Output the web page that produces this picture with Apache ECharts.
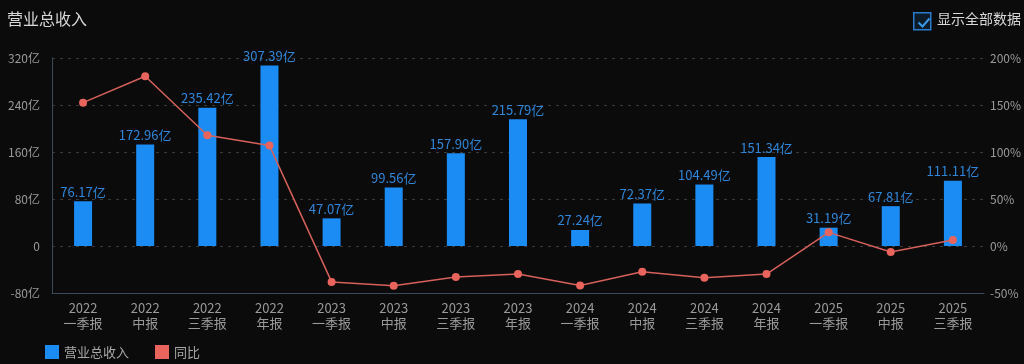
<!DOCTYPE html>
<html><head><meta charset="utf-8">
<script src="https://cdn.jsdelivr.net/npm/echarts@6/dist/echarts.min.js"></script>
<style>html,body{margin:0;padding:0;background:#0b0b0c;}#c{width:1024px;height:364px;}</style>
</head><body><div id="c"></div>
<script>
const categories = ['2022\n一季报','2022\n中报','2022\n三季报','2022\n年报','2023\n一季报','2023\n中报','2023\n三季报','2023\n年报','2024\n一季报','2024\n中报','2024\n三季报','2024\n年报','2025\n一季报','2025\n中报','2025\n三季报'];
const revenue = [76.17,172.96,235.42,307.39,47.07,99.56,157.90,215.79,27.24,72.37,104.49,151.34,31.19,67.81,111.11];
const yoy = [152.5,180.6,117.9,106.8,-38.2,-42.4,-32.9,-29.8,-42.1,-27.3,-33.8,-29.9,14.5,-6.3,6.3];
const leftTicks = {min:-80,max:320,interval:80};
const rightTicks = {min:-50,max:200,interval:50};

const chart = echarts.init(document.getElementById('c'));
const font = '"Noto Sans CJK SC", "Noto Sans", sans-serif';
chart.setOption({
  backgroundColor:'#0b0b0c',
  textStyle:{fontFamily:font},
  title:{text:'营业总收入',left:2,top:6,textStyle:{color:'#d8d8d8',fontSize:16,fontWeight:'normal',fontFamily:font}},
  legend:{left:40,bottom:0,itemWidth:14,itemHeight:14,itemGap:26,icon:'rect',
    textStyle:{color:'#a8a8a8',fontSize:13,fontFamily:font},
    data:['营业总收入','同比']},
  grid:{left:52,right:31,top:58,bottom:71},
  xAxis:{type:'category',data:categories,
    axisLine:{show:true,onZero:false,lineStyle:{color:'#3b4a5a'}},axisTick:{show:false},
    axisLabel:{color:'#9a9a9a',fontSize:13,lineHeight:15,margin:8,interval:0,fontFamily:font}},
  yAxis:[
    {type:'value',min:leftTicks.min,max:leftTicks.max,interval:leftTicks.interval,
     axisLine:{show:true,lineStyle:{color:'#3b4a5a'}},axisTick:{show:false},
     splitLine:{lineStyle:{color:'#3a3a3a',type:[3,5]}},
     axisLabel:{color:'#9a9a9a',fontSize:12,margin:12,fontFamily:font,formatter:v=>v===0?'0':v+'亿'}},
    {type:'value',min:rightTicks.min,max:rightTicks.max,interval:rightTicks.interval,
     axisLine:{show:false},axisTick:{show:false},splitLine:{show:false},
     axisLabel:{color:'#9a9a9a',fontSize:12,margin:6,fontFamily:font,formatter:v=>v+'%'}}
  ],
  series:[
    {name:'营业总收入',type:'bar',data:revenue,barWidth:18,itemStyle:{color:'#1c8cf5'},
     label:{show:true,position:'top',color:'#2f86d6',fontSize:13,distance:3,fontFamily:font,formatter:p=>p.value.toFixed(2)+'亿'}},
    {name:'同比',type:'line',yAxisIndex:1,data:yoy,symbol:'circle',symbolSize:8,
     lineStyle:{color:'#d6605a',width:1.5},itemStyle:{color:'#e8645c'}}
  ],
  graphic:[
    {type:'rect',left:913,top:12,shape:{width:17,height:17},style:{fill:'#0d1a28',stroke:'#2b7ccc',lineWidth:1.5}},
    {type:'polyline',left:916,top:16,shape:{points:[[0,5],[4,9],[11,1]]},style:{stroke:'#3a9ae8',lineWidth:2,fill:null}},
    {type:'text',left:937,top:12,style:{text:'显示全部数据',fill:'#d8d8d8',font:'14px '+font}}
  ]
});
</script></body></html>
